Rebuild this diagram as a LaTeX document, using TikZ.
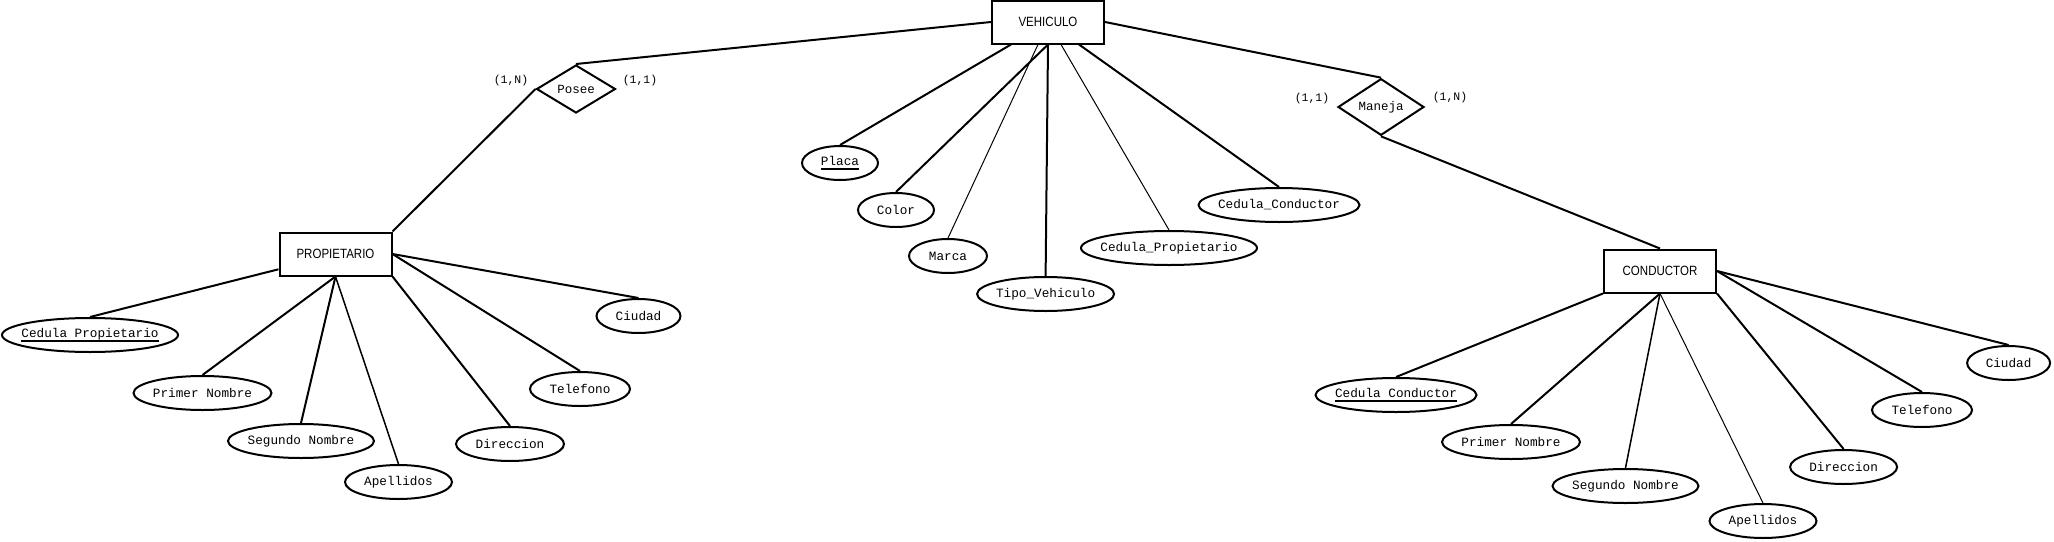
\documentclass[tikz,border=0pt]{standalone}
\usepackage{fontspec}
\usepackage{tikz}
\usetikzlibrary{shapes.geometric}
\newfontfamily\attfam{Liberation Mono}
\newfontfamily\entfam[FakeStretch=0.86]{Liberation Sans}
\newcommand{\etq}[1]{\makebox[0pt]{#1}}
\newcommand{\clave}[1]{\makebox[0pt]{\setbox0\hbox{#1}\rlap{\rule[-4.5pt]{\wd0}{1.7pt}}\box0}}

\begin{document}
\begin{tikzpicture}[x=1pt,y=-1pt,
  entidad/.style={draw,line width=2pt,inner sep=0pt,minimum width=112pt,minimum height=43pt,font=\entfam\fontsize{13.4pt}{15pt}\selectfont},
  relacion/.style={draw,diamond,line width=2pt,inner sep=0pt,font=\attfam\fontsize{12.5pt}{14pt}\selectfont},
  atributo/.style={draw,ellipse,line width=2pt,inner sep=0pt,minimum height=34pt,minimum width=#1,font=\attfam\fontsize{12.7pt}{14pt}\selectfont},
  card/.style={inner sep=0pt,font=\attfam\fontsize{11.5pt}{13pt}\selectfont},
  enlace/.style={line width=2pt},
  fino/.style={line width=1pt}]
\useasboundingbox (0,0) rectangle (2054,541);
% entidades y relaciones
\node[entidad] (veh) at (1048,22) {VEHICULO};
\node[entidad] (prop) at (335.5,254) {PROPIETARIO};
\node[entidad] (cond) at (1660,271) {CONDUCTOR};
\node[relacion,minimum width=79pt,minimum height=48pt] (posee) at (576,89) {Posee};
\node[relacion,minimum width=86pt,minimum height=52pt] (maneja) at (1381,107) {Maneja};
\node[card] (posN) at (511,81) {(1,N)};
\node[card] (pos1) at (640,81) {(1,1)};
\node[card] (man1) at (1312,98.5) {(1,1)};
\node[card] (manN) at (1450,98) {(1,N)};
\draw[enlace] (veh.west)--(posee.north); \draw[enlace] (posee.west)--(prop.north east);
\draw[enlace] (veh.east)--(maneja.north); \draw[enlace] (maneja.south)--(cond.north);
% atributos de PROPIETARIO
\node[atributo=176pt] (cedp) at (90,335) {\clave{Cedula Propietario}};
\node[atributo=138pt] (pnp) at (202.5,393) {\etq{Primer Nombre}};
\node[atributo=146pt] (snp) at (301,441) {\etq{Segundo Nombre}};
\node[atributo=107pt] (app) at (398.5,482) {\etq{Apellidos}};
\node[atributo=108pt] (dirp) at (510,444) {\etq{Direccion}};
\node[atributo=100pt] (telp) at (580,389) {\etq{Telefono}};
\node[atributo=84pt] (ciup) at (638.5,316) {\etq{Ciudad}};
\draw[enlace] (prop.195)--(cedp.north); \draw[enlace] (prop.south)--(pnp.north);
\draw[enlace] (prop.south)--(snp.north); \draw[enlace,line width=1.5pt] (prop.south)--(app.north);
\draw[enlace] (prop.south east)--(dirp.north); \draw[enlace] (prop.east)--(telp.north);
\draw[enlace] (prop.east)--(ciup.north);
% atributos de VEHICULO
\node[atributo=76pt] (placa) at (840,163) {\clave{Placa}};
\node[atributo=76pt] (color) at (896,210) {\etq{Color}};
\node[atributo=78pt] (marca) at (948,256) {\etq{Marca}};
\node[atributo=137pt] (tipo) at (1045.6,294) {\etq{Tipo\_Vehiculo}};
\node[atributo=176pt] (cedpv) at (1169,248) {\etq{Cedula\_Propietario}};
\node[atributo=161pt] (cedcv) at (1279,205) {\etq{Cedula\_Conductor}};
\draw[enlace] ([xshift=-37pt]veh.south)--(placa.north); \draw[enlace] (veh.south)--(color.north);
\draw[fino] ([xshift=-10pt]veh.south)--(marca.north); \draw[enlace] (veh.south)--(tipo.north);
\draw[fino] ([xshift=13pt]veh.south)--(cedpv.north); \draw[enlace] ([xshift=31pt]veh.south)--(cedcv.north);
% atributos de CONDUCTOR
\node[atributo=161pt] (cedc) at (1396,395) {\clave{Cedula Conductor}};
\node[atributo=138pt] (pnc) at (1511,442) {\etq{Primer Nombre}};
\node[atributo=146pt] (snc) at (1625.5,486) {\etq{Segundo Nombre}};
\node[atributo=107pt] (apc) at (1763,521) {\etq{Apellidos}};
\node[atributo=107pt] (dirc) at (1843.6,467) {\etq{Direccion}};
\node[atributo=100pt] (telc) at (1922,410) {\etq{Telefono}};
\node[atributo=83pt] (ciuc) at (2008.6,363) {\etq{Ciudad}};
\draw[enlace] (cond.south west)--(cedc.north); \draw[enlace] (cond.south)--(pnc.north);
\draw[enlace,line width=1.5pt] (cond.south)--(snc.north); \draw[fino] (cond.south)--(apc.north);
\draw[enlace] (cond.south east)--(dirc.north); \draw[enlace] (cond.east)--(telc.north);
\draw[enlace] (cond.east)--(ciuc.north);
\end{tikzpicture}
\end{document}
